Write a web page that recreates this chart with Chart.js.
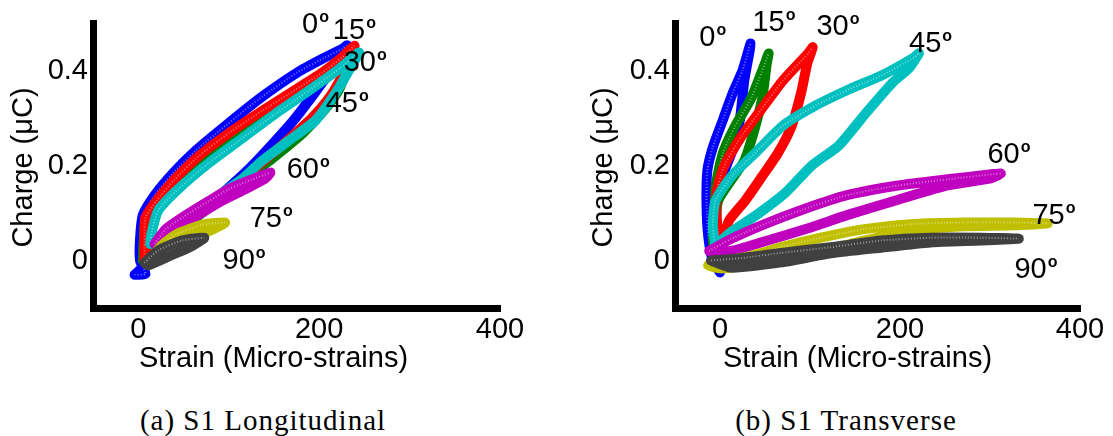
<!DOCTYPE html>
<html lang="en">
<head>
<meta charset="UTF-8">
<title>S1 charge vs strain</title>
<script src="https://cdn.jsdelivr.net/npm/chart.js"></script>
<style>
  body { margin: 0; background: #fff; width: 1113px; height: 436px; position: relative; overflow: hidden; }
  canvas { position: absolute; top: 0; }
  #cLong { left: 0; }
  #cTrans { left: 556px; }
  .caption {
    position: absolute; top: 406px;
    font-family: 'Liberation Serif', 'DejaVu Serif', serif;
    font-size: 29px; line-height: 29px; letter-spacing: 1px;
    color: #000; transform: translateX(-50%); white-space: nowrap;
  }
</style>
</head>
<body>
<canvas id="cLong" width="556" height="380"></canvas>
<canvas id="cTrans" width="557" height="380"></canvas>
<div class="caption" style="left:263px">(a) S1 Longitudinal</div>
<div class="caption" style="left:846px">(b) S1 Transverse</div>

<script>
const xTicks = [0, 200, 400];
const yTicks = [0, 0.2, 0.4];
const angleNames = ['0', '15', '30', '45', '60', '75', '90'];
const lineColors = ['#0000ff', '#008000', '#ff0000', '#00bfbf', '#bf00bf', '#bfbf00', '#404040'];

// (a) longitudinal: strain (micro-strains) and charge (uC) per loop,
// starting at the bottom, up the loading branch to the tip, back down
const longX0 = [-4, 8, 2, 2, 5, 18, 38, 64, 98, 137, 176, 206, 226, 231, 218, 196, 173, 144, 122, 95, 68, 42, 18, 4, -4];
const longY0 = [-0.03, -0.028, 0.0, 0.045, 0.095, 0.137, 0.183, 0.232, 0.286, 0.345, 0.396, 0.427, 0.446, 0.453, 0.412, 0.355, 0.298, 0.236, 0.192, 0.145, 0.1, 0.06, 0.02, -0.015, -0.03];
const longX1 = [5, 6, 8, 18, 38, 65, 100, 137, 172, 205, 228, 236, 232, 222, 205, 183, 155, 125, 95, 62, 32, 12, 5];
const longY1 = [0.0, 0.04, 0.085, 0.115, 0.16, 0.208, 0.258, 0.305, 0.348, 0.39, 0.42, 0.44, 0.41, 0.36, 0.315, 0.27, 0.225, 0.18, 0.135, 0.088, 0.045, 0.015, 0.0];
const longX2 = [7, 7, 8, 20, 40, 67, 100, 137, 170, 203, 225, 239, 236, 226, 212, 192, 168, 142, 114, 84, 54, 27, 10, 7];
const longY2 = [0.0, 0.04, 0.09, 0.125, 0.17, 0.22, 0.268, 0.315, 0.355, 0.395, 0.427, 0.452, 0.43, 0.39, 0.345, 0.3, 0.258, 0.215, 0.17, 0.125, 0.08, 0.04, 0.01, 0.0];
const longX3 = [13, 15, 22, 44, 78, 114, 151, 189, 222, 244, 236, 218, 196, 167, 137, 114, 92, 59, 29, 13];
const longY3 = [0.035, 0.06, 0.105, 0.15, 0.205, 0.256, 0.308, 0.358, 0.403, 0.438, 0.41, 0.352, 0.295, 0.253, 0.21, 0.17, 0.141, 0.09, 0.055, 0.035];
const longX4 = [18, 30, 50, 78, 100, 125, 146, 140, 118, 95, 70, 45, 25, 18];
const longY4 = [0.035, 0.065, 0.092, 0.125, 0.15, 0.17, 0.185, 0.172, 0.15, 0.128, 0.1, 0.07, 0.045, 0.035];
const longX5 = [11, 25, 42, 70, 96, 84, 55, 28, 11];
const longY5 = [-0.005, 0.03, 0.055, 0.075, 0.08, 0.067, 0.042, 0.008, -0.005];
const longX6 = [7, 22, 48, 73, 59, 33, 11, 7];
const longY6 = [-0.005, 0.021, 0.042, 0.048, 0.03, 0.008, -0.01, -0.005];

// (b) transverse
const transX0 = [0, -8, -13, -15, -14, -8, 3, 14, 25, 32, 34, 33, 27, 22, 15, 4, -4, -6, -3, 0];
const transY0 = [-0.025, 0.0, 0.05, 0.12, 0.19, 0.238, 0.295, 0.352, 0.4, 0.445, 0.457, 0.442, 0.379, 0.295, 0.238, 0.183, 0.112, 0.042, 0.0, -0.025];
const transX1 = [-5, -8, -6, -5, 3, 16, 35, 50, 54, 52, 47, 38, 27, 12, -2, -4, -2, -5];
const transY1 = [0.0, 0.05, 0.1, 0.154, 0.225, 0.28, 0.343, 0.415, 0.436, 0.415, 0.343, 0.274, 0.21, 0.168, 0.126, 0.084, 0.015, 0.0];
const transX2 = [1, -3, -4, 4, 23, 45, 70, 98, 103, 97, 90, 79, 64, 46, 28, 10, 3, 1];
const transY2 = [0.015, 0.07, 0.141, 0.196, 0.259, 0.316, 0.379, 0.436, 0.449, 0.415, 0.352, 0.28, 0.225, 0.175, 0.126, 0.084, 0.042, 0.015];
const transX3 = [-5, -8, -5, 14, 40, 70, 106, 143, 180, 216, 221, 210, 192, 162, 132, 102, 73, 40, 12, -5];
const transY3 = [0.03, 0.07, 0.126, 0.18, 0.228, 0.284, 0.326, 0.36, 0.39, 0.428, 0.436, 0.405, 0.375, 0.31, 0.242, 0.2, 0.143, 0.095, 0.06, 0.03];
const transX4 = [-12, 12, 49, 93, 142, 198, 253, 304, 312, 301, 253, 198, 142, 98, 49, 12, -12];
const transY4 = [0.02, 0.045, 0.076, 0.108, 0.138, 0.158, 0.171, 0.182, 0.183, 0.173, 0.158, 0.128, 0.096, 0.068, 0.04, 0.02, 0.02];
const transX5 = [-7, 31, 68, 112, 160, 216, 271, 327, 364, 327, 271, 216, 160, 104, 49, 1, -13, -7];
const transY5 = [-0.004, 0.008, 0.028, 0.048, 0.066, 0.077, 0.08, 0.08, 0.078, 0.074, 0.072, 0.063, 0.042, 0.015, -0.006, -0.017, -0.01, -0.004];
const transX6 = [-10, 23, 68, 123, 179, 234, 290, 332, 290, 234, 179, 123, 68, 12, -10];
const transY6 = [0.0, 0.005, 0.016, 0.028, 0.042, 0.048, 0.048, 0.046, 0.042, 0.038, 0.027, 0.015, -0.004, -0.015, 0.0];

// where the angle labels sit, in data units
const longLabelX = [196, 239, 251, 231, 188, 147, 117];
const longLabelY = [0.499, 0.488, 0.421, 0.333, 0.194, 0.091, 0.004];
const transLabelX = [-8, 60, 131, 234, 321, 371, 351];
const transLabelY = [0.472, 0.505, 0.495, 0.459, 0.227, 0.097, -0.015];

const SANS = '"Liberation Sans", Arial, sans-serif';
const FS = 29;

function buildChart(id, xs, ys, labX, labY, g) {
  const n = xs.length;
  const datasets = [];
  xs.forEach((xa, i) => {
    const pts = xa.map((x, k) => ({ x: x, y: ys[i][k] }));
    const tip = xa.indexOf(Math.max(...xa));
    datasets.push({
      label: angleNames[i] + 'º',
      data: pts,
      showLine: true,
      borderColor: lineColors[i],
      borderWidth: 10,
      borderJoinStyle: 'round',
      borderCapStyle: 'round',
      tension: 0.2,
      pointRadius: 0,
      order: 2 * (n - i)
    });
    // loading branch was plotted with open markers: lighten it a little
    datasets.push({
      data: pts.slice(0, tip + 1),
      showLine: true,
      borderColor: 'rgba(255,255,255,0.45)',
      borderWidth: 2,
      borderDash: [1, 2],
      tension: 0.2,
      pointRadius: 0,
      order: 2 * (n - i) - 1
    });
  });

  const decorate = {
    id: 'decorate',
    afterDraw(chart) {
      const ctx = chart.ctx, a = chart.chartArea;
      const sx = chart.scales.x, sy = chart.scales.y;
      ctx.save();
      ctx.fillStyle = '#000';
      ctx.textAlign = 'left';
      ctx.textBaseline = 'alphabetic';
      labX.forEach((lx, i) => {
        const px = sx.getPixelForValue(lx), py = sy.getPixelForValue(labY[i]);
        ctx.font = FS + 'px ' + SANS;
        const wNum = ctx.measureText(angleNames[i]).width;
        ctx.font = 'bold 16px ' + SANS;
        const wDeg = ctx.measureText('o').width;
        const x0 = px - (wNum + wDeg + 1) / 2;
        ctx.font = FS + 'px ' + SANS;
        ctx.fillText(angleNames[i], x0, py + 10);
        ctx.font = 'bold 16px ' + SANS;
        ctx.fillText('o', x0 + wNum + 1, py - 1);
      });
      ctx.font = FS + 'px ' + SANS;
      ctx.textAlign = 'center';
      ctx.fillText('Strain (Micro-strains)', (a.left + a.right) / 2 + g.xTitleShift, 367);
      ctx.translate(g.yTitleX, (a.top + a.bottom) / 2 + 2);
      ctx.rotate(-Math.PI / 2);
      ctx.fillText('Charge (\u03bcC)', 0, 0);
      ctx.restore();
    }
  };

  return new Chart(document.getElementById(id), {
    type: 'scatter',
    data: { datasets: datasets },
    plugins: [decorate],
    options: {
      responsive: false,
      animation: false,
      devicePixelRatio: 1,
      layout: { padding: { top: 23, right: g.padRight, left: 0, bottom: 0 } },
      plugins: { legend: { display: false }, tooltip: { enabled: false } },
      scales: {
        x: {
          type: 'linear', min: -50, max: 400,
          afterBuildTicks: s => { s.ticks = xTicks.map(v => ({ value: v })); },
          afterFit: s => { s.height = 72; },
          grid: { drawOnChartArea: false, drawTicks: false },
          border: { display: true, color: '#000', width: 7 },
          ticks: { color: '#000', padding: 5, maxRotation: 0, font: { family: SANS, size: FS }, callback: v => String(v) }
        },
        y: {
          type: 'linear', min: -0.1, max: 0.5,
          afterBuildTicks: s => { s.ticks = yTicks.map(v => ({ value: v })); },
          afterFit: s => { s.width = g.yAxisWidth; },
          grid: { drawOnChartArea: false, drawTicks: false },
          border: { display: true, color: '#000', width: 7 },
          ticks: { color: '#000', padding: 5, font: { family: SANS, size: FS }, callback: v => (v === 0 ? '0' : v.toFixed(1)) }
        }
      }
    }
  });
}

buildChart('cLong',
  [longX0, longX1, longX2, longX3, longX4, longX5, longX6],
  [longY0, longY1, longY2, longY3, longY4, longY5, longY6],
  longLabelX, longLabelY,
  { yAxisWidth: 93, padRight: 56, xTitleShift: -23, yTitleX: 32 });

buildChart('cTrans',
  [transX0, transX1, transX2, transX3, transX4, transX5, transX6],
  [transY0, transY1, transY2, transY3, transY4, transY5, transY6],
  transLabelX, transLabelY,
  { yAxisWidth: 119, padRight: 33, xTitleShift: -20, yTitleX: 56 });
</script>
</body>
</html>
